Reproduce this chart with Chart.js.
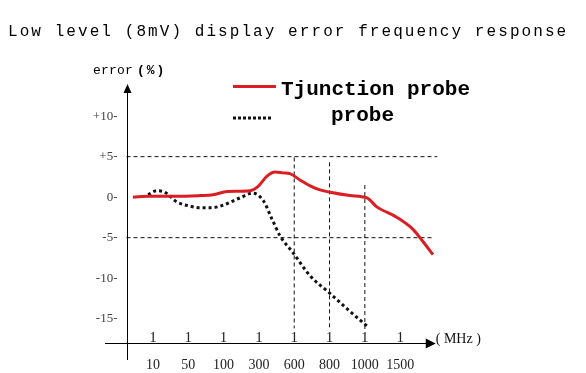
<!DOCTYPE html>
<html><head><meta charset="utf-8">
<script src="https://cdn.jsdelivr.net/npm/chart.js@4/dist/chart.umd.min.js"></script>
<style>html,body{margin:0;padding:0;background:#fff;}#wrap{width:586px;height:373px;}</style>
</head><body><div id="wrap"><canvas id="c" width="586" height="373"></canvas></div>
<script>
const chartTitle = 'Low level (8mV) display error frequency response';
const freqLabels = ['10','50','100','300','600','800','1000','1500'];
const freqPos = [1,2,3,4,5,6,7,8];
const yTicks = [-15,-10,-5,0,5,10];
const yTickLabels = ['-15-','-10-','-5-','0-','+5-','+10-'];
const seriesNames = ['Tjunction probe','probe'];
// Tjunction probe (red)
const tjX = [0.43,0.92,1.63,2.33,2.70,3.10,3.75,3.97,4.23,4.46,4.68,4.88,5.17,5.45,5.73,6.02,6.58,7.06,7.34,7.91,8.37,8.65,8.93];
const tjY = [0,0.1,0.1,0.2,0.3,0.7,0.8,1.3,2.6,3.1,3.0,2.9,2.1,1.4,0.9,0.6,0.2,-0.1,-1.2,-2.5,-4.0,-5.5,-7.1];
// probe (black dotted)
const prX = [0.86,1.11,1.34,1.68,2.05,2.33,2.67,2.98,3.46,3.83,4.12,4.37,4.60,4.94,5.45,6.02,6.58,7.06];
const prY = [0.3,0.8,0.6,-0.6,-1.1,-1.3,-1.3,-1.0,-0.1,0.5,-0.4,-2.7,-4.8,-6.7,-9.7,-11.9,-14.1,-15.9];
// dashed reference lines
const hRefY = [5,-5];
const hRefXEnd = [9.05,8.9];
const vRefX = [5,6,7];
const vRefTop = [4.9,4.3,1.5];
const vRefBottom = [-16.2,-16.2,-16.5];

const xMin = 0.25, xMax = 9.1, yMin = -18, yMax = 13.6;

const refSets = [];
hRefY.forEach((y,i)=>refSets.push({data:[{x:xMin,y:y},{x:hRefXEnd[i],y:y}],borderColor:'#111',borderWidth:1,borderDash:[4,3],pointRadius:0,fill:false,label:'_ref'}));
vRefX.forEach((x,i)=>refSets.push({data:[{x:x,y:vRefTop[i]},{x:x,y:vRefBottom[i]}],borderColor:'#111',borderWidth:1,borderDash:[4,3],pointRadius:0,fill:false,label:'_ref'}));

const deco = {
  id:'deco',
  afterDraw(chart){
    const ctx = chart.ctx, xs = chart.scales.x, ys = chart.scales.y;
    ctx.save();
    ctx.strokeStyle = '#000'; ctx.fillStyle = '#000'; ctx.lineWidth = 1;
    const ax = Math.round(xs.getPixelForValue(xMin)) + 0.5;
    const ay = Math.round(ys.getPixelForValue(yMin)) + 0.5;
    // y axis
    ctx.beginPath(); ctx.moveTo(ax, 92); ctx.lineTo(ax, 360); ctx.stroke();
    ctx.beginPath(); ctx.moveTo(ax, 84); ctx.lineTo(ax-4, 93); ctx.lineTo(ax+4, 93); ctx.closePath(); ctx.fill();
    // x axis
    const xEnd = xs.getPixelForValue(8.98);
    ctx.beginPath(); ctx.moveTo(105, ay); ctx.lineTo(xEnd-6, ay); ctx.stroke();
    ctx.beginPath(); ctx.moveTo(xEnd+1, ay); ctx.lineTo(xEnd-9, ay-5); ctx.lineTo(xEnd-9, ay+5); ctx.closePath(); ctx.fill();
    // tick glyphs
    ctx.font = '15px "Liberation Serif"'; ctx.fillStyle = '#222'; ctx.textAlign = 'center'; ctx.textBaseline = 'alphabetic';
    freqPos.forEach(p=>{ ctx.fillText('1', xs.getPixelForValue(p), ay-2); });
    // (MHz)
    ctx.textAlign = 'left'; ctx.font = '14px "Liberation Serif"'; ctx.fillStyle = '#111';
    ctx.fillText('( MHz )', xEnd+1, ay-1);
    // title
    ctx.fillStyle = '#000';
    ctx.font = '16px "Liberation Mono"'; ctx.letterSpacing = '2.07px';
    ctx.fillText(chartTitle, 8, 36);
    // error label
    ctx.font = '13px "Liberation Mono"'; ctx.letterSpacing = '0.2px';
    ctx.fillText('error', 93, 74);
    ctx.font = 'bold 13px "Liberation Mono"'; ctx.letterSpacing = '2px';
    ctx.fillText('(%)', 137, 74);
    // legend
    ctx.letterSpacing = '0px';
    const d = chart.data.datasets;
    ctx.strokeStyle = d[0].borderColor; ctx.lineWidth = 3;
    ctx.beginPath(); ctx.moveTo(233, 86.5); ctx.lineTo(276, 86.5); ctx.stroke();
    ctx.strokeStyle = d[1].borderColor; ctx.setLineDash([3,2]);
    ctx.beginPath(); ctx.moveTo(233, 118); ctx.lineTo(272, 118); ctx.stroke();
    ctx.setLineDash([]);
    ctx.fillStyle = '#000'; ctx.font = 'bold 21px "Liberation Mono"';
    ctx.fillText(d[0].label, 281, 95);
    ctx.fillText(d[1].label, 331, 121);
    ctx.restore();
  }
};

new Chart(document.getElementById('c'), {
  type:'line',
  data:{
    datasets:[
      {label:seriesNames[0], data:tjX.map((x,i)=>({x:x,y:tjY[i]})), borderColor:'rgb(218,30,36)', borderWidth:3, pointRadius:0, tension:0.4, cubicInterpolationMode:'monotone', fill:false},
      {label:seriesNames[1], data:prX.map((x,i)=>({x:x,y:prY[i]})), borderColor:'#111', borderWidth:3, borderDash:[3,3], pointRadius:0, tension:0.4, cubicInterpolationMode:'monotone', fill:false},
      ...refSets
    ]
  },
  options:{
    responsive:false, animation:false, clip:false,
    layout:{padding:{left:86.5, right:147, top:87, bottom:0}},
    plugins:{legend:{display:false}, tooltip:{enabled:false}, title:{display:false}},
    scales:{
      x:{type:'linear', min:xMin, max:xMax,
         afterBuildTicks:s=>{s.ticks = freqPos.map(v=>({value:v}));},
         afterFit:s=>{s.height = 30;},
         grid:{display:false}, border:{display:false},
         ticks:{padding:6, color:'#222', font:{family:'"Liberation Serif"', size:14},
                callback:(v)=>{const i=freqPos.indexOf(v); return i>=0?freqLabels[i]:'';}, maxRotation:0, autoSkip:false}},
      y:{type:'linear', min:yMin, max:yMax,
         afterBuildTicks:s=>{s.ticks = yTicks.map(v=>({value:v}));},
         afterFit:s=>{s.width = 40;},
         grid:{display:false}, border:{display:false},
         ticks:{padding:1, color:'#444', font:{family:'"Liberation Serif"', size:13},
                callback:(v)=>{const i=yTicks.indexOf(v); return i>=0?yTickLabels[i]:'';}, autoSkip:false}}
    }
  },
  plugins:[deco]
});
</script></body></html>
